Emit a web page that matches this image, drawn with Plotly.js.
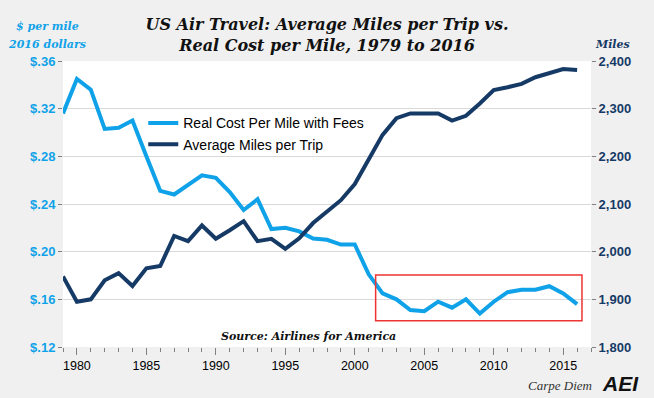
<!DOCTYPE html>
<html>
<head>
<meta charset="utf-8">
<script src="https://cdn.plot.ly/plotly-3.0.1.min.js"></script>
<style>
  html, body { margin: 0; padding: 0; background: #f0f0f0; }
  #chart { width: 654px; height: 398px; }
</style>
</head>
<body>
<div id="chart"></div>
<script>
// ---- Data ----
const years = [1979, 1980, 1981, 1982, 1983, 1984, 1985, 1986, 1987, 1988,
               1989, 1990, 1991, 1992, 1993, 1994, 1995, 1996, 1997, 1998,
               1999, 2000, 2001, 2002, 2003, 2004, 2005, 2006, 2007, 2008,
               2009, 2010, 2011, 2012, 2013, 2014, 2015, 2016];

const realCostPerMile = [0.316, 0.345, 0.336, 0.303, 0.304, 0.310, 0.280, 0.251, 0.248, 0.256,
                         0.264, 0.262, 0.250, 0.235, 0.244, 0.219, 0.220, 0.217, 0.211, 0.210,
                         0.206, 0.206, 0.181, 0.165, 0.160, 0.151, 0.150, 0.158, 0.153, 0.160,
                         0.148, 0.158, 0.166, 0.168, 0.168, 0.171, 0.165, 0.156];

const avgMilesPerTrip = [1948, 1895, 1900, 1940, 1955, 1928, 1965, 1970, 2033, 2022,
                         2055, 2027, 2045, 2064, 2022, 2027, 2006, 2028, 2060, 2084,
                         2108, 2142, 2192, 2245, 2280, 2290, 2290, 2290, 2275, 2285,
                         2311, 2339, 2345, 2352, 2366, 2374, 2383, 2381];

const seriesNames = ["Real Cost Per Mile with Fees", "Average Miles per Trip"];

const costTickVals = [0.12, 0.16, 0.20, 0.24, 0.28, 0.32, 0.36];
const costTickText = ["$.12", "$.16", "$.20", "$.24", "$.28", "$.32", "$.36"];
const milesTickVals = [1800, 1900, 2000, 2100, 2200, 2300, 2400];
const milesTickText = ["1,800", "1,900", "2,000", "2,100", "2,200", "2,300", "2,400"];
const yearTickVals = [1980, 1985, 1990, 1995, 2000, 2005, 2010, 2015];

// ---- Styles ----
const LIGHT = "#10a2e8";
const NAVY = "#163a66";
const SERIF = "DejaVu Serif, serif";
const SANS = "Liberation Sans, Arial, sans-serif";

const traces = [
  {
    x: years, y: realCostPerMile, name: seriesNames[0],
    type: "scatter", mode: "lines", yaxis: "y",
    line: { color: LIGHT, width: 4 }
  },
  {
    x: years, y: avgMilesPerTrip, name: seriesNames[1],
    type: "scatter", mode: "lines", yaxis: "y2",
    line: { color: NAVY, width: 4 }
  }
];

const layout = {
  width: 654, height: 398,
  margin: { l: 63, r: 63, t: 61, b: 51, pad: 0 },
  paper_bgcolor: "#f0f0f0",
  plot_bgcolor: "#ffffff",
  font: { family: SANS, size: 12, color: "#000" },
  title: {
    text: "<b><i>US Air Travel: Average Miles per Trip vs.<br>Real Cost per Mile, 1979 to 2016</i></b>",
    font: { family: SERIF, size: 16, color: "#111" },
    x: 0.5, xanchor: "center", xref: "container",
    y: 1 - 30 / 398, yanchor: "middle", yref: "container"
  },
  showlegend: true,
  legend: {
    x: 0.152, xanchor: "left", y: 0.838, yanchor: "top",
    bgcolor: "rgba(0,0,0,0)", borderwidth: 0,
    font: { family: SANS, size: 14, color: "#000" },
    tracegroupgap: 0
  },
  xaxis: {
    range: [1979, 2017],
    tickvals: yearTickVals,
    ticks: "outside", ticklen: 7, tickcolor: "#808080", tickwidth: 1,
    minor: { dtick: 1, tick0: 1979, ticks: "outside", ticklen: 4, tickcolor: "#808080", tickwidth: 1, showgrid: false },
    showgrid: false, zeroline: false, showline: false,
    tickfont: { family: SANS, size: 12.5, color: "#000" },
    fixedrange: true
  },
  yaxis: {
    range: [0.12, 0.36],
    tickvals: costTickVals, ticktext: costTickText,
    ticks: "outside", ticklen: 4, tickcolor: "#808080",
    showgrid: true, gridcolor: "#d9d9d9", gridwidth: 1,
    zeroline: false, showline: false,
    tickfont: { family: SANS, size: 13, color: LIGHT, weight: "bold" },
    fixedrange: true
  },
  yaxis2: {
    range: [1800, 2400], overlaying: "y", side: "right",
    tickvals: milesTickVals, ticktext: milesTickText,
    ticks: "outside", ticklen: 4, tickcolor: "#808080",
    showgrid: false, zeroline: false, showline: false,
    tickfont: { family: SANS, size: 13, color: NAVY, weight: "bold" },
    fixedrange: true
  },
  shapes: [
    {
      type: "rect", xref: "x", yref: "y",
      x0: 2001.5, x1: 2016.35, y0: 0.1421, y1: 0.1804,
      line: { color: "#ee3333", width: 1.5 }, fillcolor: "rgba(0,0,0,0)"
    }
  ],
  annotations: [
    {
      text: "<b><i>$ per mile</i></b>", xref: "paper", yref: "paper",
      x: (47 - 63) / 528, y: (347 - 27) / 286, xanchor: "center", yanchor: "middle",
      showarrow: false, font: { family: SERIF, size: 11, color: LIGHT }
    },
    {
      text: "<b><i>2016 dollars</i></b>", xref: "paper", yref: "paper",
      x: (47 - 63) / 528, y: (347 - 44) / 286, xanchor: "center", yanchor: "middle",
      showarrow: false, font: { family: SERIF, size: 11, color: LIGHT }
    },
    {
      text: "<b><i>Miles</i></b>", xref: "paper", yref: "paper",
      x: (612 - 63) / 528, y: (347 - 44) / 286, xanchor: "center", yanchor: "middle",
      showarrow: false, font: { family: SERIF, size: 11, color: NAVY }
    },
    {
      text: "<b><i>Source: Airlines for America</i></b>", xref: "paper", yref: "paper",
      x: (308 - 63) / 528, y: (347 - 336) / 286, xanchor: "center", yanchor: "middle",
      showarrow: false, font: { family: SERIF, size: 11, color: "#111" }
    },
    {
      text: "<i>Carpe Diem</i>", xref: "paper", yref: "paper",
      x: (594 - 63) / 528, y: (347 - 386) / 286, xanchor: "right", yanchor: "middle",
      showarrow: false, font: { family: "Liberation Serif, serif", size: 13, color: "#333" }
    },
    {
      text: "<b><i>AEI</i></b>", xref: "paper", yref: "paper",
      x: (600 - 63) / 528, y: (347 - 383) / 286, xanchor: "left", yanchor: "middle",
      showarrow: false, font: { family: SANS, size: 21, color: "#111" }
    }
  ]
};

Plotly.newPlot("chart", traces, layout, { displayModeBar: false, staticPlot: true });
</script>
</body>
</html>
